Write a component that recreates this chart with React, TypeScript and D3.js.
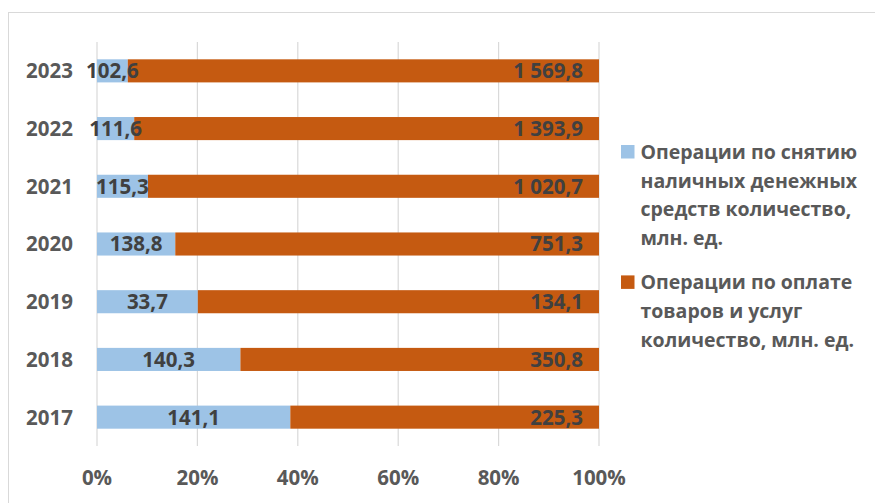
import React from "react";
import * as d3 from "d3";

// Card operations by year (mln. units)
const years = ["2017", "2018", "2019", "2020", "2021", "2022", "2023"];
const cashWithdrawals = [141.1, 140.3, 33.7, 138.8, 115.3, 111.6, 102.6];
const payments = [225.3, 350.8, 134.1, 751.3, 1020.7, 1393.9, 1569.8];
const xTicks = [0, 0.2, 0.4, 0.6, 0.8, 1];

const seriesNames = [
  ["Операции по снятию", "наличных денежных", "средств количество,", "млн. ед."],
  ["Операции по оплате", "товаров и услуг", "количество, млн. ед."],
];
const seriesColors = ["#9DC3E6", "#C55A11"];

const W = 875;
const H = 503;
const FONT = "'Open Sans', 'Noto Sans', sans-serif";

const ru = d3.formatLocale({
  decimal: ",",
  thousands: " ",
  grouping: [3],
  currency: ["", ""],
});
const fmtValue = ru.format(",.1f");
const fmtPct = d3.format(".0%");

export default function App() {
  const x = d3.scaleLinear().domain([0, 1]).range([97, 599]);
  const y = d3
    .scaleBand<string>()
    .domain([...years].reverse())
    .range([42, 446])
    .paddingInner(0.6)
    .paddingOuter(0.3);
  const bh = y.bandwidth();

  const rows = years.map((yr, i) => {
    const total = cashWithdrawals[i] + payments[i];
    return {
      yr,
      cash: cashWithdrawals[i],
      pay: payments[i],
      share: cashWithdrawals[i] / total,
    };
  });

  const legendTop = 159;
  const lineH = 28.7;
  const entryGap = 44.3;

  let cursor = legendTop;
  const legendEntries = seriesNames.map((lines, i) => {
    const base = cursor;
    cursor += (lines.length - 1) * lineH + entryGap;
    return { lines, base, color: seriesColors[i] };
  });

  return (
    <svg
      width={W}
      height={H}
      style={{ position: "absolute", left: 0, top: 0, background: "#fff" }}
      fontFamily={FONT}
    >
      <rect x={8.5} y={12.5} width={W + 20} height={H + 20} fill="#fff" stroke="#D9D9D9" strokeWidth={1} />

      {/* vertical gridlines */}
      {xTicks.map((t) => (
        <line
          key={t}
          x1={x(t)}
          x2={x(t)}
          y1={42}
          y2={446}
          stroke="#D9D9D9"
          strokeWidth={1.2}
        />
      ))}

      {/* stacked bars */}
      {rows.map((r) => {
        const yTop = y(r.yr)!;
        const cy = yTop + bh / 2;
        return (
          <g key={r.yr}>
            <rect x={x(0)} y={yTop} width={x(r.share) - x(0)} height={bh} fill={seriesColors[0]} />
            <rect x={x(r.share)} y={yTop} width={x(1) - x(r.share)} height={bh} fill={seriesColors[1]} />
            <text
              x={(x(0) + x(r.share)) / 2}
              y={cy}
              dy="0.36em"
              textAnchor="middle"
              fontSize={20.5}
              fontWeight={700}
              fill="#404040"
            >
              {fmtValue(r.cash)}
            </text>
            <text
              x={x(1) - 16}
              y={cy}
              dy="0.36em"
              textAnchor="end"
              fontSize={20.5}
              fontWeight={700}
              fill="#404040"
            >
              {fmtValue(r.pay)}
            </text>
            <text
              x={73}
              y={cy}
              dy="0.36em"
              textAnchor="end"
              fontSize={20.5}
              fontWeight={700}
              fill="#595959"
            >
              {r.yr}
            </text>
          </g>
        );
      })}

      {/* x axis tick labels */}
      {xTicks.map((t) => (
        <text
          key={t}
          x={x(t)}
          y={485}
          textAnchor="middle"
          fontSize={20.5}
          fontWeight={700}
          fill="#595959"
        >
          {fmtPct(t)}
        </text>
      ))}

      {/* legend */}
      {legendEntries.map((e, i) => (
        <g key={i}>
          <rect x={621} y={e.base - 14} width={13.5} height={13.5} fill={e.color} />
          {e.lines.map((ln, j) => (
            <text
              key={j}
              x={640.5}
              y={e.base + j * lineH}
              fontSize={19.5}
              fontWeight={700}
              fill="#595959"
            >
              {ln}
            </text>
          ))}
        </g>
      ))}
    </svg>
  );
}
